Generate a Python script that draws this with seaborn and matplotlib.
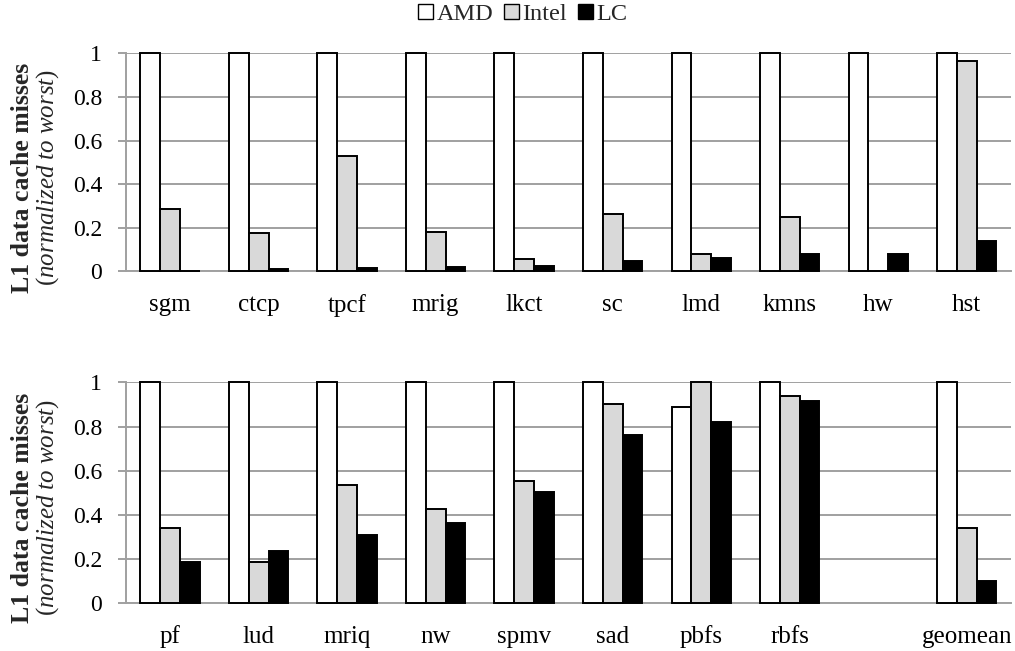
import matplotlib
matplotlib.use("Agg")
import matplotlib.pyplot as plt
import numpy as np
import pandas as pd
import seaborn as sns

# Benchmarks for each row of the figure
top_benchmarks = ["sgm", "ctcp", "tpcf", "mrig", "lkct", "sc", "lmd", "kmns", "hw", "hst"]
bottom_benchmarks = ["pf", "lud", "mriq", "nw", "spmv", "sad", "pbfs", "rbfs", "", "geomean"]

series_names = ["AMD", "Intel", "LC"]

# L1 data cache misses, normalized to the worst configuration
top_amd = [1.0, 1.0, 1.0, 1.0, 1.0, 1.0, 1.0, 1.0, 1.0, 1.0]
top_intel = [0.287, 0.176, 0.53, 0.183, 0.055, 0.264, 0.081, 0.252, 0.0, 0.963]
top_lc = [0.004, 0.011, 0.018, 0.021, 0.023, 0.046, 0.064, 0.079, 0.082, 0.14]

bottom_amd = [1.0, 1.0, 1.0, 1.0, 1.0, 1.0, 0.887, 1.0, np.nan, 1.0]
bottom_intel = [0.342, 0.185, 0.537, 0.428, 0.552, 0.90, 1.0, 0.937, np.nan, 0.341]
bottom_lc = [0.185, 0.238, 0.308, 0.363, 0.504, 0.76, 0.819, 0.916, np.nan, 0.102]

y_ticks = [0, 0.2, 0.4, 0.6, 0.8, 1]
y_tick_labels = ["0", "0.2", "0.4", "0.6", "0.8", "1"]

colors = {"AMD": "#ffffff", "Intel": "#d9d9d9", "LC": "#000000"}
grid_color = "#a0a0a0"

sns.set_theme(style="white")
plt.rcParams["font.family"] = ["Liberation Serif", "DejaVu Serif"]
plt.rcParams["mathtext.fontset"] = "custom"
plt.rcParams["mathtext.rm"] = "Liberation Serif"
plt.rcParams["mathtext.it"] = "Liberation Serif:italic"


def long_frame(names, amd, intel, lc):
    rows = []
    for name, a, i, l in zip(names, amd, intel, lc):
        rows.append((name, "AMD", a))
        rows.append((name, "Intel", i))
        rows.append((name, "LC", l))
    return pd.DataFrame(rows, columns=["benchmark", "config", "misses"])


fig = plt.figure(figsize=(10.15, 6.51), dpi=100)
ax_top = fig.add_axes([0.124, 0.583, 0.872, 0.335])
ax_bot = fig.add_axes([0.124, 0.0733, 0.872, 0.3394])

panels = [
    (ax_top, top_benchmarks, long_frame(top_benchmarks, top_amd, top_intel, top_lc)),
    (ax_bot, bottom_benchmarks, long_frame(bottom_benchmarks, bottom_amd, bottom_intel, bottom_lc)),
]

for ax, names, df in panels:
    sns.barplot(
        data=df, x="benchmark", y="misses", hue="config",
        order=names, hue_order=series_names, palette=colors,
        width=0.67, gap=0, edgecolor="black", linewidth=1.4,
        legend=False, ax=ax, zorder=3,
    )
    for p in ax.patches:
        p.set_clip_on(False)
    ax.set_ylim(0, 1)
    ax.set_xlim(-0.5, len(names) - 0.5)
    ax.set_yticks(y_ticks)
    ax.set_yticklabels(y_tick_labels)
    ax.set_xlabel("")
    ax.set_ylabel("")
    ax.yaxis.grid(True, color=grid_color, linewidth=1.4, zorder=0)
    ax.set_axisbelow(True)
    for side in ["top", "right"]:
        ax.spines[side].set_visible(False)
    for side in ["left", "bottom"]:
        ax.spines[side].set_color(grid_color)
        ax.spines[side].set_linewidth(1.4)
    # category boundaries carry the tick marks, labels sit at the centers
    ax.set_xticks(np.arange(-0.5, len(names), 1.0), minor=True)
    ax.tick_params(axis="x", which="major", length=0, pad=16, labelsize=18, colors="black")
    ax.tick_params(axis="x", which="minor", length=6, width=1.4, color=grid_color, direction="out")
    ax.tick_params(axis="y", which="major", length=6, width=1.4, color=grid_color,
                   direction="out", labelsize=17, labelcolor="black", pad=11, left=True)

# rotated two-line y labels
for ax in (ax_top, ax_bot):
    pos = ax.get_position()
    yc = (pos.y0 + pos.y1) / 2 - 0.023
    fig.text(0.022, yc, "L1 data cache misses", rotation=90, ha="center", va="center",
             fontsize=18.5, fontweight="bold")
    fig.text(0.047, yc, "(" + r"$\it{normalized\ to\ worst}$" + ")", rotation=90,
             ha="center", va="center", fontsize=18)

handles = [plt.Rectangle((0, 0), 1, 1, facecolor=colors[s], edgecolor="black", linewidth=1.0)
           for s in series_names]
fig.legend(handles, series_names, loc="center", bbox_to_anchor=(0.515, 0.978), ncol=3,
           frameon=False, fontsize=17.5, handlelength=0.6, handleheight=0.6,
           handletextpad=0.15, columnspacing=0.45, borderaxespad=0)

fig.savefig("out.png", dpi=100)
